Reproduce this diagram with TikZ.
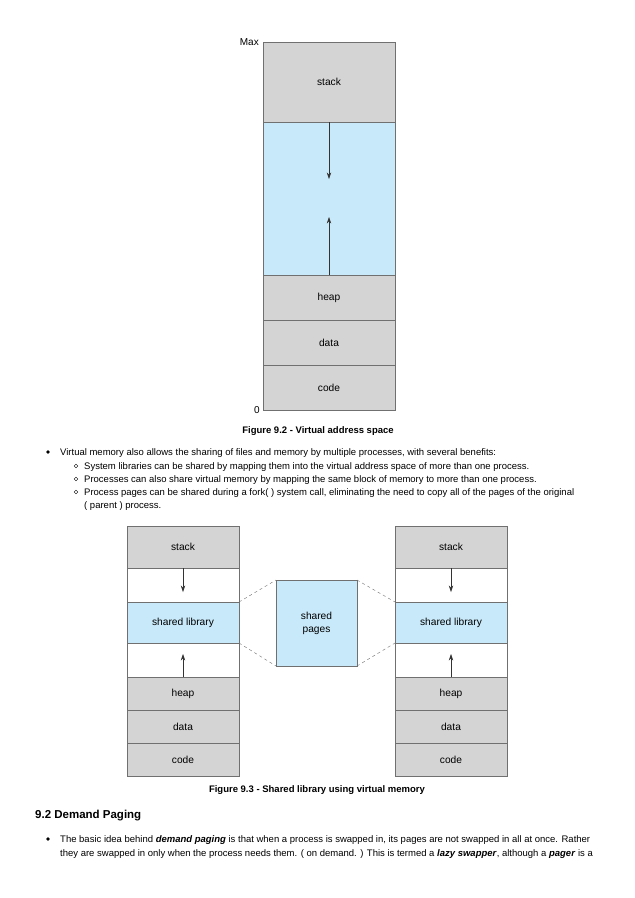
\documentclass[tikz,border=0pt]{standalone}
\usepackage{fontspec}
\setmainfont{Liberation Sans}
\usetikzlibrary{arrows.meta}
\definecolor{seggray}{HTML}{D4D4D4}
\definecolor{segblue}{HTML}{C8E9F9}
\definecolor{segline}{HTML}{707070}
\begin{document}
\begin{tikzpicture}[
  x = 1pt, y = -1pt,
  seg/.style = {
    shape = rectangle,
    draw = segline,
    fill = seggray,
    inner sep = 0pt,
    outer sep = 0pt,
    font = \fontsize{10.2}{11}\selectfont,
  },
  libseg/.style = {
    seg,
    fill = segblue,
  },
  gapseg/.style = {
    seg,
    fill = white,
  },
  growarrow/.style = {
    -{Stealth[length = 6.5pt, width = 4.4pt]},
    semithick,
    color = black!80,
  },
  bodytext/.style = {
    anchor = base west,
    inner sep = 0pt,
    font = \fontsize{9.5}{11}\selectfont,
  },
  caption/.style = {
    anchor = base,
    inner sep = 0pt,
    font = \fontsize{9.5}{11}\selectfont\bfseries,
  },
]
  \useasboundingbox[fill = white] (0, 0) rectangle (635, 898);

  % Figure 9.2
  \node[seg, minimum width = 132pt, minimum height = 80pt] (stack) at (329, 82) {stack};
  \node[libseg, minimum width = 132pt, minimum height = 153pt] (free) at (329, 198.5) {};
  \node[seg, minimum width = 132pt, minimum height = 45pt] (heap) at (329, 297.5) {heap};
  \node[seg, minimum width = 132pt, minimum height = 45pt] (data) at (329, 342.5) {data};
  \node[seg, minimum width = 132pt, minimum height = 45pt] (code) at (329, 387.5) {code};
  \node[anchor = east, inner sep = 4pt, font = \fontsize{10}{11}\selectfont] (max) at (stack.north west) {Max};
  \node[anchor = east, inner sep = 3pt, font = \fontsize{10}{11}\selectfont] (zero) at (code.south west) {0};
  \coordinate (downtip) at (329, 179);
  \coordinate (uptip) at (329, 217);
  \draw[growarrow] (free.north) -- (downtip);
  \draw[growarrow] (free.south) -- (uptip);
  \node[caption] (capA) at (318, 433) {Figure 9.2 - Virtual address space};

  % bullets
  \fill (48, 452) circle (1.8);
  \node[bodytext] (b1) at (60, 455.5) {Virtual memory also allows the sharing of files and memory by multiple processes, with several benefits:};
  \foreach \yy in {466, 479, 492} {
    \draw[thin] (76, \yy) circle (1.8);
  }
  \node[bodytext] (s1) at (84, 469.5) {System libraries can be shared by mapping them into the virtual address space of more than one process.};
  \node[bodytext] (s2) at (84, 482.5) {Processes can also share virtual memory by mapping the same block of memory to more than one process.};
  \node[bodytext] (s3) at (84, 495.5) {Process pages can be shared during a fork( ) system call, eliminating the need to copy all of the pages of the original};
  \node[bodytext] (s3b) at (84, 508) {( parent ) process.};

  % Figure 9.3
  \foreach \col/\cx in {L/183, R/451} {
    \node[seg, minimum width = 112pt, minimum height = 42pt] (\col stack) at (\cx, 547) {stack};
    \node[gapseg, minimum width = 112pt, minimum height = 34pt] (\col gapA) at (\cx, 585) {};
    \node[libseg, minimum width = 112pt, minimum height = 41pt] (\col lib) at (\cx, 622.5) {shared library};
    \node[gapseg, minimum width = 112pt, minimum height = 34pt] (\col gapB) at (\cx, 660) {};
    \node[seg, minimum width = 112pt, minimum height = 33pt] (\col heap) at (\cx, 693.5) {heap};
    \node[seg, minimum width = 112pt, minimum height = 33pt] (\col data) at (\cx, 726.5) {data};
    \node[seg, minimum width = 112pt, minimum height = 33pt] (\col code) at (\cx, 759.5) {code};
    \coordinate (\col down) at (\cx, 592);
    \coordinate (\col up) at (\cx, 654);
    \draw[growarrow] (\col gapA.north) -- (\col down);
    \draw[growarrow] (\col gapB.south) -- (\col up);
  }
  \node[libseg, minimum width = 81pt, minimum height = 86pt, align = center,
    font = \fontsize{10.2}{13}\selectfont] (shared) at (316.5, 623) {shared\\pages};
  \draw[dashed, segline] (Llib.north east) -- (shared.north west);
  \draw[dashed, segline] (Llib.south east) -- (shared.south west);
  \draw[dashed, segline] (shared.north east) -- (Rlib.north west);
  \draw[dashed, segline] (shared.south east) -- (Rlib.south west);
  \node[caption] (capB) at (317, 792) {Figure 9.3 - Shared library using virtual memory};

  % section 9.2
  \node[anchor = base west, inner sep = 0pt, font = \fontsize{11.5}{14}\selectfont\bfseries] (head) at (35, 818) {9.2 Demand Paging};
  \fill (48, 839) circle (1.8);
  \node[bodytext] (d1) at (60, 842.5) {The basic idea behind \textbf{\textit{demand paging}} is that when a process is swapped in, its pages are not swapped in all at once. Rather};
  \node[bodytext] (d2) at (60, 856.5) {they are swapped in only when the process needs them. ( on demand. ) This is termed a \textbf{\textit{lazy swapper}}, although a \textbf{\textit{pager}} is a};
\end{tikzpicture}
\end{document}
